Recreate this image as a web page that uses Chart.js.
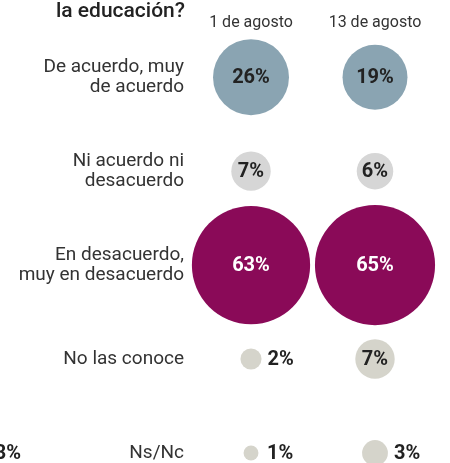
<!DOCTYPE html>
<html><head><meta charset="utf-8">
<script src="https://cdn.jsdelivr.net/npm/chart.js@4"></script>
<style>html,body{margin:0;padding:0;background:#fff;overflow:hidden}#wrap{width:450px;height:463px;position:relative}</style>
</head><body><div id="wrap"><canvas id="c"></canvas></div>
<script>
const categories = [['De acuerdo, muy','de acuerdo'], ['Ni acuerdo ni','desacuerdo'], ['En desacuerdo,','muy en desacuerdo'], 'No las conoce', 'Ns/Nc'];
const dates = ['1 de agosto', '13 de agosto'];
const agosto1 = [26, 7, 63, 2, 1];
const agosto13 = [19, 6, 65, 7, 3];
const title = 'la educación?';
const strayLabel = '3%';

const rowColors = ['#8AA4B2', '#D6D6D6', '#8A0A58', '#D5D4CB', '#D5D4CB'];
const labelColors = ['#222', '#222', '#fff', '#222', '#222'];
const K = 7.45;
const FONT = 'Roboto, "Open Sans", sans-serif';
const rowKeys = categories.map((c, i) => 'r' + i);

const datasets = categories.map((cat, i) => ({
  label: Array.isArray(cat) ? cat.join(' ') : cat,
  data: [
    {x: dates[0], y: rowKeys[i], v: agosto1[i]},
    {x: dates[1], y: rowKeys[i], v: agosto13[i]}
  ],
  backgroundColor: rowColors[i],
  borderWidth: 0,
  hoverBorderWidth: 0,
  radius: ctx => K * Math.sqrt(ctx.raw.v),
  hoverRadius: 0,
  clip: false
}));

const valueLabels = {
  id: 'valueLabels',
  afterDatasetsDraw(chart) {
    const ctx = chart.ctx;
    ctx.save();
    ctx.font = 'bold 20px ' + FONT;
    ctx.textBaseline = 'middle';
    chart.data.datasets.forEach((ds, i) => {
      const meta = chart.getDatasetMeta(i);
      meta.data.forEach((el, j) => {
        const v = ds.data[j].v;
        const r = K * Math.sqrt(v);
        const txt = v + '%';
        if (r >= 15) {
          ctx.fillStyle = labelColors[i];
          ctx.textAlign = 'center';
          ctx.fillText(txt, el.x, el.y + 1);
        } else {
          ctx.fillStyle = '#222';
          ctx.textAlign = 'left';
          ctx.fillText(txt, el.x + Math.max(r, 10) + 6, el.y + 1);
        }
      });
    });
    ctx.restore();
  },
  afterDraw(chart) {
    const ctx = chart.ctx;
    ctx.save();
    ctx.fillStyle = '#222';
    ctx.font = '500 21px ' + FONT;
    ctx.textAlign = 'right';
    ctx.textBaseline = 'alphabetic';
    ctx.fillText(title, 185, 17);
    ctx.font = 'bold 20px ' + FONT;
    ctx.textAlign = 'right';
    ctx.textBaseline = 'middle';
    const lastY = chart.scales.y.getPixelForValue(categories.length - 1);
    ctx.fillText(strayLabel, 21, lastY + 1);
    ctx.restore();
  }
};

new Chart(document.getElementById('c'), {
  type: 'bubble',
  data: {datasets},
  plugins: [valueLabels],
  options: {
    responsive: true,
    maintainAspectRatio: false,
    animation: false,
    events: [],
    layout: {autoPadding: false, padding: {left: 0, right: 13, top: 13, bottom: 3}},
    plugins: {legend: {display: false}, tooltip: {enabled: false}},
    scales: {
      x: {
        type: 'category',
        labels: dates,
        position: 'top',
        offset: true,
        grid: {display: true, color: 'transparent', drawOnChartArea: false, drawTicks: true, tickLength: 45},
        border: {display: false},
        ticks: {color: '#333', font: {family: FONT, size: 16}, padding: 0, maxRotation: 0}
      },
      y: {
        type: 'category',
        labels: rowKeys,
        offset: false,
        grid: {display: true, color: 'transparent', drawOnChartArea: false, drawTicks: true, tickLength: 5},
        border: {display: false},
        afterFit: s => { s.width = 189; s.paddingBottom = 10; s.paddingTop = 0; },
        ticks: {
          color: '#333',
          padding: 0,
          font: {family: FONT, size: 19, lineHeight: 1.08},
          callback: (v, i) => categories[i]
        }
      }
    }
  }
});
</script></body></html>
